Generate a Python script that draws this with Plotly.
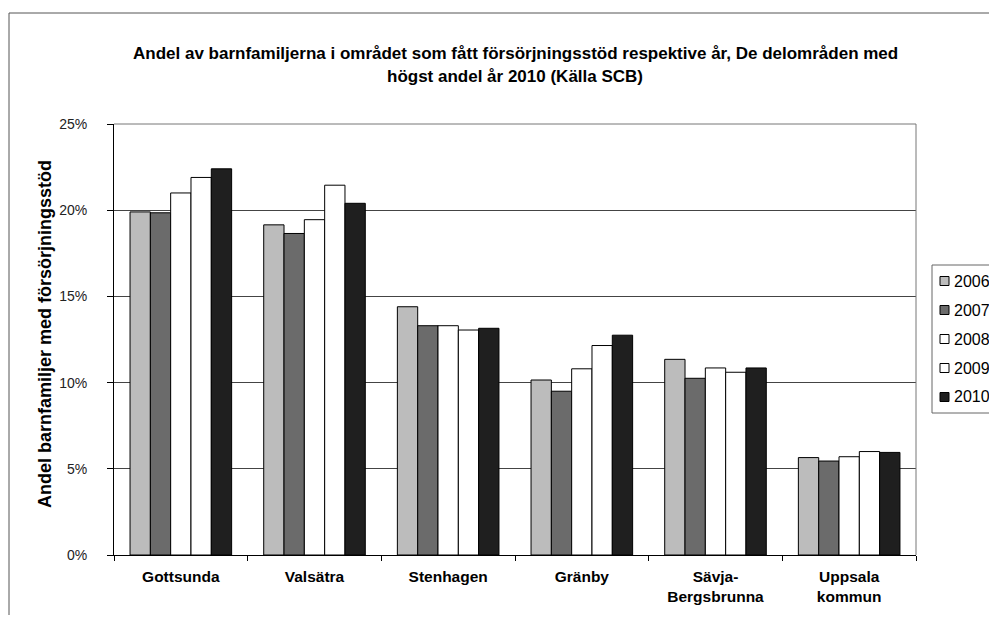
import plotly.graph_objects as go

categories = ["Gottsunda", "Valsätra", "Stenhagen", "Gränby", "Sävja-<br>Bergsbrunna", "Uppsala<br>kommun"]
years = ["2006", "2007", "2008", "2009", "2010"]
v2006 = [19.9, 19.15, 14.4, 10.15, 11.35, 5.65]
v2007 = [19.85, 18.65, 13.3, 9.5, 10.25, 5.45]
v2008 = [21.0, 19.45, 13.3, 10.8, 10.85, 5.7]
v2009 = [21.9, 21.45, 13.05, 12.15, 10.6, 6.0]
v2010 = [22.4, 20.4, 13.15, 12.75, 10.85, 5.95]
series = [v2006, v2007, v2008, v2009, v2010]
colors = ["#bcbcbc", "#6b6b6b", "#ffffff", "#ffffff", "#1f1f1f"]

title_lines = ["Andel av barnfamiljerna i området som fått försörjningsstöd respektive år, De delområden med",
               "högst andel år 2010 (Källa SCB)"]
ytitle = "Andel barnfamiljer med försörjningsstöd"

FONT = "Arial, Liberation Sans, sans-serif"
OFF = 8  # page body margin
W, H = 997 - 2 * OFF, 623 - 2 * OFF
L = 114 - OFF
T = 124 - OFF
R = W - (916 - OFF)
B = H - (555 - OFF)
PW, PH = W - L - R, H - T - B


def px(x):
    return (x - OFF - L) / PW


def py(y):
    return (H - B - (y - OFF)) / PH


fig = go.Figure()
for name, vals, col in zip(years, series, colors):
    fig.add_trace(go.Bar(x=categories, y=vals, name=name, marker=dict(color=col, line=dict(color="black", width=1)),
                         showlegend=False))

shapes = []
annotations = []
# outer chart border
shapes.append(dict(type="rect", xref="paper", yref="paper", x0=px(9), x1=px(1005), y0=py(13), y1=py(640),
                   line=dict(color="#555555", width=1), fillcolor="rgba(0,0,0,0)", layer="below"))
# plot area top/right border
shapes.append(dict(type="line", xref="paper", yref="paper", x0=0, x1=1, y0=1, y1=1, line=dict(color="#777777", width=1)))
shapes.append(dict(type="line", xref="paper", yref="paper", x0=1, x1=1, y0=0, y1=1, line=dict(color="#777777", width=1)))

# title
for i, line in enumerate(title_lines):
    annotations.append(dict(text="<b>" + line + "</b>", xref="paper", yref="paper", x=px(515), y=py(53 + 23 * i),
                            xanchor="center", yanchor="middle", showarrow=False,
                            font=dict(family=FONT, size=17, color="black")))

# y axis title
annotations.append(dict(text="<b>" + ytitle + "</b>", xref="paper", yref="paper", x=px(45), y=py(334),
                        xanchor="center", yanchor="middle", textangle=-90, showarrow=False,
                        font=dict(family=FONT, size=18, color="black")))

# legend (manual)
shapes.append(dict(type="rect", xref="paper", yref="paper", x0=px(932), x1=px(1010), y0=py(265), y1=py(413),
                   line=dict(color="#666666", width=1), fillcolor="white"))
for i, (name, col) in enumerate(zip(years, colors)):
    yc = 281 + 29 * i
    shapes.append(dict(type="rect", xref="paper", yref="paper", x0=px(940), x1=px(949), y0=py(yc - 4.5), y1=py(yc + 4.5),
                       line=dict(color="black", width=1), fillcolor=col))
    annotations.append(dict(text=name, xref="paper", yref="paper", x=px(952), y=py(yc), xanchor="left",
                            yanchor="middle", showarrow=False, font=dict(family=FONT, size=16, color="black")))

fig.update_layout(
    width=W, height=H,
    margin=dict(l=L, r=R, t=T, b=B, autoexpand=False),
    paper_bgcolor="white", plot_bgcolor="white",
    barmode="group", bargap=0.24, bargroupgap=0,
    shapes=shapes, annotations=annotations,
    font=dict(family=FONT, color="black"),
)
fig.update_xaxes(showline=True, linecolor="black", linewidth=1, ticks="outside", tickson="boundaries", ticklen=5,
                 tickcolor="black", tickfont=dict(family=FONT, size=15.5, color="black"), showgrid=False,
                 ticklabelstandoff=7, range=[-0.5, 5.5])
fig.update_yaxes(range=[0, 25], dtick=5, ticksuffix="%", showline=True, linecolor="black", linewidth=1,
                 ticks="outside", ticklen=6, tickcolor="black", showgrid=True, gridcolor="#444444", gridwidth=1,
                 tickfont=dict(family=FONT, size=14, color="#222222"), ticklabelstandoff=17, zeroline=False)

# bold category labels
fig.update_xaxes(ticktext=["<b>" + c + "</b>" for c in categories], tickvals=categories)

fig.write_html("out.html")
